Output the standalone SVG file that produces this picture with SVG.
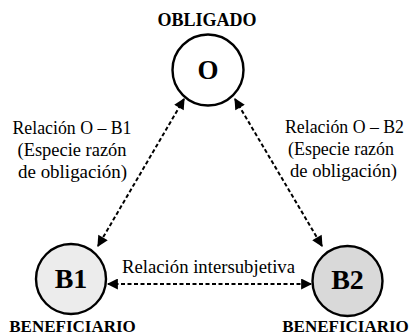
<svg xmlns="http://www.w3.org/2000/svg" width="409" height="335" viewBox="0 0 409 335">
<style>
.node{stroke:#000;stroke-width:2.4}
.t{font-family:"Liberation Serif",serif;fill:#000}
.b{font-weight:bold}
.lbl{font-size:18px;text-anchor:middle}
.conn{stroke:#000;stroke-width:2;stroke-dasharray:4 2.5;fill:none}
</style>
<defs>
<marker id="ah" viewBox="0 0 10 10" refX="9" refY="5" markerWidth="6" markerHeight="5.5" orient="auto-start-reverse" markerUnits="strokeWidth">
<path d="M0,0 L10,5 L0,10 z" fill="#000"/>
</marker>
</defs>
<rect width="409" height="335" fill="#fff"/>
<g id="connectors">
<line class="conn" x1="184" y1="99" x2="98" y2="246" marker-start="url(#ah)" marker-end="url(#ah)"/>
<line class="conn" x1="235" y1="99" x2="322" y2="246" marker-start="url(#ah)" marker-end="url(#ah)"/>
<line class="conn" x1="108" y1="284" x2="311" y2="284" marker-start="url(#ah)" marker-end="url(#ah)"/>
<text class="t lbl" x="208.5" y="273" textLength="173" lengthAdjust="spacingAndGlyphs">Relación intersubjetiva</text>
<text class="t lbl" x="72" y="134" textLength="119" lengthAdjust="spacingAndGlyphs">Relación O – B1</text>
<text class="t lbl" x="72" y="156" textLength="109" lengthAdjust="spacingAndGlyphs">(Especie razón</text>
<text class="t lbl" x="72.5" y="178" textLength="109" lengthAdjust="spacingAndGlyphs">de obligación)</text>
<text class="t lbl" x="344.5" y="133" textLength="119" lengthAdjust="spacingAndGlyphs">Relación O – B2</text>
<text class="t lbl" x="341" y="155" textLength="106" lengthAdjust="spacingAndGlyphs">(Especie razón</text>
<text class="t lbl" x="343.5" y="177" textLength="107" lengthAdjust="spacingAndGlyphs">de obligación)</text>
</g>
<g id="node-O">
<text class="t b" x="207" y="26" text-anchor="middle" font-size="18">OBLIGADO</text>
<circle class="node" cx="208" cy="70" r="35.5" fill="#fff"/>
<text class="t b" x="208" y="79" text-anchor="middle" font-size="27">O</text>
</g>
<g id="node-B1">
<circle class="node" cx="71" cy="279" r="35" fill="#ececec"/>
<text class="t b" x="71" y="288" text-anchor="middle" font-size="28">B1</text>
<text class="t b" x="72.5" y="332" text-anchor="middle" font-size="17">BENEFICIARIO</text>
</g>
<g id="node-B2">
<circle class="node" cx="347.5" cy="281" r="35" fill="#d9d9d9"/>
<text class="t b" x="347.5" y="289" text-anchor="middle" font-size="28">B2</text>
<text class="t b" x="345.5" y="332" text-anchor="middle" font-size="17">BENEFICIARIO</text>
</g>
</svg>
